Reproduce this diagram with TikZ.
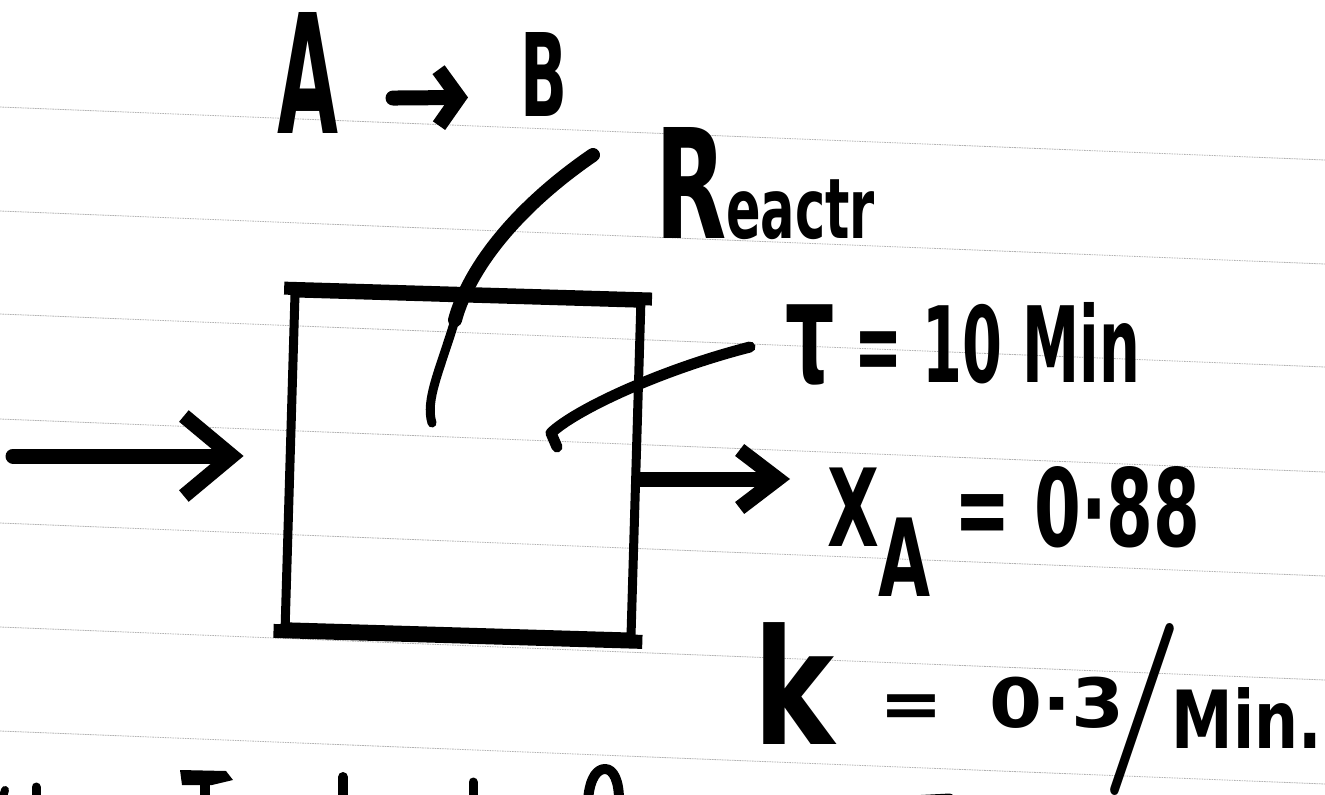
\documentclass[tikz,border=0pt]{standalone}
\usepackage{fontspec}
\setmainfont{DejaVu Sans}
\usetikzlibrary{arrows.meta}
\tikzset{
  pen/.style={draw=black, line width=#1, line cap=round, line join=round},
  pen/.default=12pt,
  rule/.style={draw=gray!60, line width=0.8pt, dash pattern=on 1.6pt off 0.9pt},
  hw/.style={inner sep=0pt, outer sep=0pt, anchor=base west, font=\bfseries},
  reactorbox/.style={draw=black, line width=9pt, rectangle, inner sep=0pt,
    minimum width=346pt, minimum height=334pt, rotate=-1.7},
}
\newcommand{\hwbox}[3]{\resizebox{#1pt}{#2pt}{#3}}
\begin{document}
\begin{tikzpicture}[x=1pt,y=-1pt]
\useasboundingbox (0,0) rectangle (1325,795);
\clip (0,0) rectangle (1325,795);
\fill[white] (0,0) rectangle (1325,795);
% ruled paper
\foreach \yy in {107,211,314,419,523,627,731}
  \draw[rule] (0,\yy) -- (1325,\yy+53);

% reaction A -> B
\node[hw] (A) at (277,133) {\hwbox{61}{121}{A}};
\node[hw] (B) at (520,116) {\hwbox{47}{84}{B}};
\draw[pen=15pt, -{Straight Barb[length=20pt,width=56pt]}, shorten <=55pt, shorten >=52pt]
  ([yshift=-26pt]A.east) -- ([yshift=-23pt]B.west);

% reactor
\node[reactorbox] (reactor) at (463,465) {};
\draw[line width=13pt, line cap=rect] (reactor.north west) -- (reactor.north east);
\draw[line width=14pt, line cap=rect] (reactor.south west) -- (reactor.south east);

% label Reactr and its leader
\node[hw] (reactr) at (655,238) {\hwbox{220}{111}{R\fontsize{5.5}{5.5}\selectfont eactr}};
\coordinate (l1s) at (593,155);
\coordinate (l1m) at (455,320);
\coordinate (l1e) at (432,423);
\draw[pen=14pt] (l1s) .. controls (520,205) and (470,265) .. (l1m);
\draw[pen=9pt] (l1m) .. controls (440,370) and (425,400) .. (l1e);

% tau label and its leader
\node[hw] (tau) at (785,382) {\hwbox{355}{80}{{\fontsize{13.5}{13.5}\selectfont τ} = 10 Min}};
\coordinate (l2s) at (557,447);
\coordinate (l2e) at (750,347);
\draw[pen=11pt] (l2s) -- (551,433) .. controls (575,410) and (660,370) .. (l2e);

% inlet arrow
\coordinate (in) at (13,456);
\draw[pen=15pt, -{Straight Barb[length=48pt,width=80pt]}, shorten >=42pt]
  (in) -- (in -| reactor.west);

% outlet arrow
\coordinate (out) at (790,479);
\draw[pen=15pt, -{Straight Barb[length=38pt,width=58pt]}]
  (out -| reactor.east) -- (out);

% conversion
\node[hw] (xa) at (827,546) {\hwbox{373}{80}{X\raisebox{-4.7pt}{A}\ = 0·88}};

% rate constant
\node[hw] (k) at (753,727) {\scalebox{7.63}[6.8]{%
  \raisebox{-2.6pt}{\scalebox{1.6}[2.36]{k}}\hspace{6pt}=\hspace{6pt}0·3%
  \kern-3.1pt\raisebox{-3.68pt}{\scalebox{1.87}[2.53]{\boldmath$/$}}%
  \kern-1.5pt\raisebox{-3.1pt}{\scalebox{0.81}[1.18]{Min.}}}};

% cut-off handwriting at the bottom edge
\draw[pen=8pt] (2,800) -- (5,790);
\draw[pen=9pt] (36,800) -- (36,787);
\fill (180,770) -- (226,771) -- (233,780) -- (212,785) -- (182,785) -- cycle;
\draw[pen=10pt] (205,784) -- (205,800);
\draw[pen=10pt] (343,800) -- (343,777);
\draw[pen=9pt] (473,800) -- (473,782);
\draw[pen=10pt] (588,800) .. controls (590,776) and (598,769) .. (605,769) .. controls (614,769) and (619,782) .. (619,800);
\draw[pen=7pt] (911,799) -- (950,797);
\end{tikzpicture}
\end{document}
